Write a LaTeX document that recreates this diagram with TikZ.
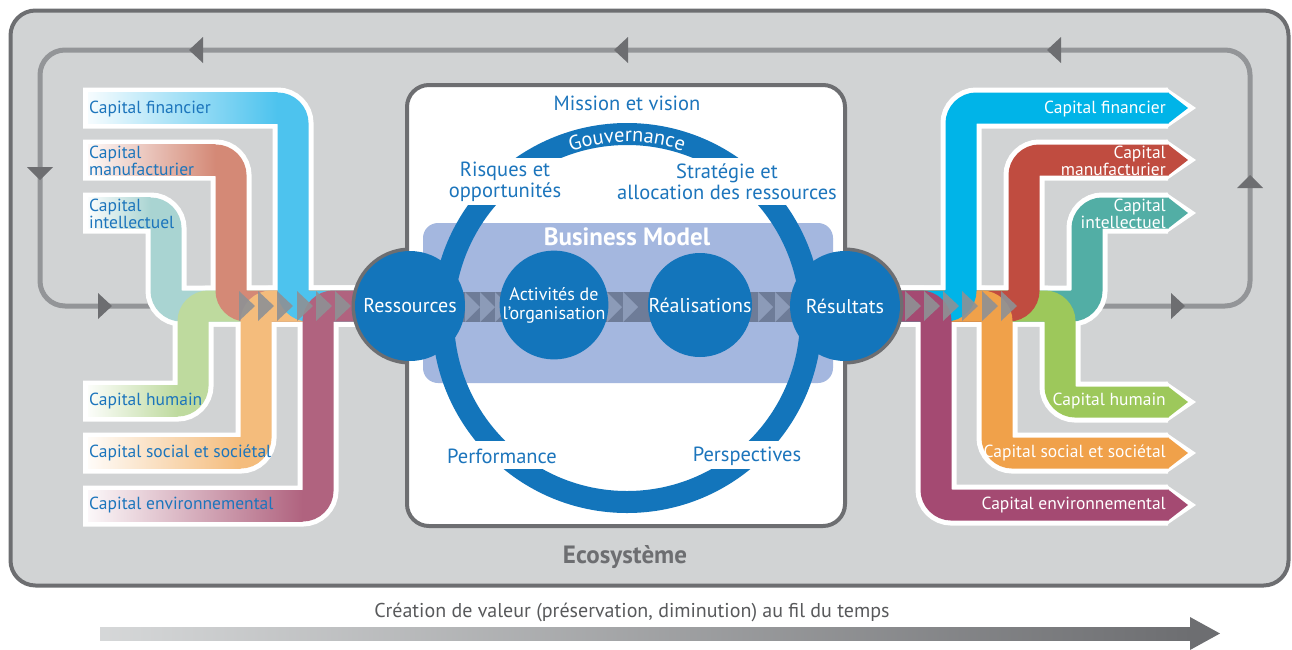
\documentclass[tikz,border=0pt]{standalone}
\usepackage{fontspec}
\setmainfont{PT Sans}
\usetikzlibrary{decorations.text,calc}
\definecolor{bggray}{HTML}{D1D3D4}
\definecolor{dgray}{HTML}{6D6E71}
\definecolor{loopgray}{HTML}{939598}
\definecolor{cblue}{HTML}{1375BB}
\definecolor{tblue}{HTML}{1C75BC}
\definecolor{bmblue}{HTML}{A4B7DF}
\definecolor{slate}{HTML}{6E7C98}
\definecolor{chevc}{HTML}{8C9BB8}
\definecolor{sidechev}{HTML}{8E9195}
\definecolor{timegray}{HTML}{58595B}
\definecolor{lfin}{HTML}{4DC3EE}
\definecolor{lman}{HTML}{D48976}
\definecolor{lint}{HTML}{A9D4D2}
\definecolor{lhum}{HTML}{BEDA9E}
\definecolor{lsoc}{HTML}{F4BC7C}
\definecolor{lenv}{HTML}{B0637F}
\definecolor{rfin}{HTML}{00B4E8}
\definecolor{rman}{HTML}{C04C40}
\definecolor{rint}{HTML}{52AEA5}
\definecolor{rhum}{HTML}{9DC85B}
\definecolor{rsoc}{HTML}{F0A14A}
\definecolor{renv}{HTML}{A44A72}
\newcommand\lwhite[2]{\draw[bandwhite] (83,#1) -- (#2,#1) -- (#2,306) -- (385,306);}
\newcommand\lcol[3]{%
  \draw[bandcol,draw=#3] (88,#1) -- (#2,#1) -- (#2,306) -- (385,306);
  \shade[left color=#3!5!white,right color=#3] (88,#1-15.5) rectangle (#2-15.5,#1+15.5);}
\newcommand\rwhite[2]{\draw[bandwhite] (840,306) -- (#2,306) -- (#2,#1) -- (1168,#1);
  \fill[white] (1166,#1-20.5) -- (1196,#1) -- (1166,#1+20.5) -- cycle;}
\newcommand\rcol[3]{\draw[bandcol,draw=#3] (840,306) -- (#2,306) -- (#2,#1) -- (1168.5,#1);
  \fill[#3] (1168,#1-15.5) -- (1188,#1) -- (1168,#1+15.5) -- cycle;}
\begin{document}
\begin{tikzpicture}[x=1pt,y=-1pt,
  bandwhite/.style={draw=white,line width=41pt,rounded corners=15.5pt},
  bandcol/.style={line width=31pt,rounded corners=15.5pt},
  lbl/.style={inner sep=0pt,font=\fontsize{17.5}{17.5}\selectfont},
  ctext/.style={inner sep=0pt,text=tblue,font=\fontsize{20.5}{21}\selectfont},
  bigc/.style={circle,fill=cblue,inner sep=0pt,minimum size=110pt,text=white,font=\fontsize{20}{20}\selectfont},
  midc/.style={circle,fill=cblue,inner sep=0pt,minimum size=104pt,text=white,font=\fontsize{20}{20}\selectfont,align=center},
  looptip/.style={fill=dgray}]
\useasboundingbox (0,0) rectangle (1292,649);
% ecosystem box
\draw[draw=dgray,fill=bggray,line width=4pt,rounded corners=25pt] (10.5,10.5) rectangle (1288.5,585.5);
% feedback loop
\draw[loopgray,line width=5pt,rounded corners=25pt] (40,50) rectangle (1250,306);
\fill[looptip] (189,50) -- (203,37) -- (203,63) -- cycle;
\fill[looptip] (614,50) -- (628,37) -- (628,63) -- cycle;
\fill[looptip] (1047,50) -- (1061,37) -- (1061,63) -- cycle;
\fill[looptip] (40,180) -- (27,167) -- (53,167) -- cycle;
\fill[looptip] (112,306) -- (98,293) -- (98,319) -- cycle;
\fill[looptip] (1250,175) -- (1237,188) -- (1263,188) -- cycle;
\fill[looptip] (1185,306) -- (1171,293) -- (1171,319) -- cycle;
% band white bases
\lwhite{213}{166}\lwhite{401}{193}\lwhite{160}{231}\lwhite{453}{256}\lwhite{108}{293}\lwhite{506}{318}
\rwhite{213}{1087}\rwhite{402}{1060}\rwhite{160}{1024}\rwhite{453}{997}\rwhite{108}{961}\rwhite{505}{936}
% band colours
\lcol{213}{166}{lint}\lcol{401}{193}{lhum}\lcol{160}{231}{lman}\lcol{453}{256}{lsoc}\lcol{108}{293}{lfin}\lcol{506}{318}{lenv}
\rcol{213}{1087}{rint}\rcol{402}{1060}{rhum}\rcol{160}{1024}{rman}\rcol{453}{997}{rsoc}\rcol{108}{961}{rfin}\rcol{505}{936}{renv}
% side chevrons
\foreach \x in {239,258,277,297,316,335,905,924,943,962,982,1001}
  \fill[sidechev,opacity=0.9] (\x,291) -- (\x+16,306) -- (\x,321) -- cycle;
% outer circles first pass (grey rim)
\fill[dgray] (410,306) circle[radius=58.5];
\fill[dgray] (845,306) circle[radius=58.5];
% central box
\draw[dgray,fill=white,line width=4pt,rounded corners=22pt] (407,85) rectangle (845,526);
\fill[bmblue,rounded corners=15pt] (423,223) rectangle (833,383);
\fill[slate] (440,292) rectangle (820,322);
\foreach \x in {465,480,495,607,623,758,775}
  \fill[chevc] (\x,292) -- (\x+15,307) -- (\x,322) -- cycle;
% ring
\draw[cblue,line width=22pt] (627,318) circle[radius=184];
\fill[white] (412,158) rectangle (842,205);
\fill[white] (412,441) rectangle (842,469);
\path[decorate,decoration={text along path,text align=center,
  text={|\color{white}\fontsize{20.5}{20}\selectfont|Gouvernance}}]
  (539,165.58) arc[start angle=240,end angle=300,radius=176];
% circles
\node[bigc] (res) at (410,306) {Ressources};
\node[bigc] (rst) at (845,306) {Résultats};
\node[midc,font=\fontsize{18}{19}\selectfont] (act) at (554,305) {Activités de\\l’organisation};
\node[midc] (real) at (700,305) {Réalisations};
% texts in box
\node[ctext] (mission) at (627,103) {Mission et vision};
\node[ctext,align=center] (risk) at (505,182) {Risques et\\opportunités};
\node[ctext,align=center] (strat) at (727,182) {Stratégie et\\allocation des ressources};
\node[inner sep=0pt,text=white,font=\fontsize{25}{25}\selectfont\bfseries] (bm) at (627,237) {Business Model};
\node[ctext] (perf) at (502,456) {Performance};
\node[ctext] (persp) at (747,456) {Perspectives};
\node[inner sep=0pt,text=dgray,font=\fontsize{25}{25}\selectfont\bfseries] (eco) at (625,557) {Ecosystème};
% left labels
\node[lbl,text=tblue,anchor=west] (lf) at (89,109) {Capital financier};
\node[lbl,text=tblue,anchor=west,align=left] (lm) at (89,161) {Capital\\manufacturier};
\node[lbl,text=tblue,anchor=west,align=left] (li) at (89,214) {Capital\\intellectuel};
\node[lbl,text=tblue,anchor=west] (lh) at (89,401) {Capital humain};
\node[lbl,text=tblue,anchor=west] (ls) at (89,453) {Capital social et sociétal};
\node[lbl,text=tblue,anchor=west] (le) at (89,505) {Capital environnemental};
% right labels
\node[lbl,text=white,anchor=east] (rf) at (1166,109) {Capital financier};
\node[lbl,text=white,anchor=east,align=right] (rm) at (1166,161) {Capital\\manufacturier};
\node[lbl,text=white,anchor=east,align=right] (ri) at (1166,214) {Capital\\intellectuel};
\node[lbl,text=white,anchor=east] (rh) at (1166,401) {Capital humain};
\node[lbl,text=white,anchor=east] (rs) at (1166,453) {Capital social et sociétal};
\node[lbl,text=white,anchor=east] (re) at (1166,505) {Capital environnemental};
% time arrow
\node[inner sep=0pt,text=timegray,font=\fontsize{20}{20}\selectfont] (time) at (632,612) {Création de valeur (préservation, diminution) au fil du temps};
\coordinate (ta) at (100,633.5);
\coordinate (tb) at (1192,633.5);
\shade[left color=bggray!90!white,right color=dgray] ($(ta)+(0,-6.5)$) rectangle ($(tb)+(0,6.5)$);
\fill[dgray] (1190,617) -- (1220,633.5) -- (1190,650) -- cycle;
\end{tikzpicture}
\end{document}
